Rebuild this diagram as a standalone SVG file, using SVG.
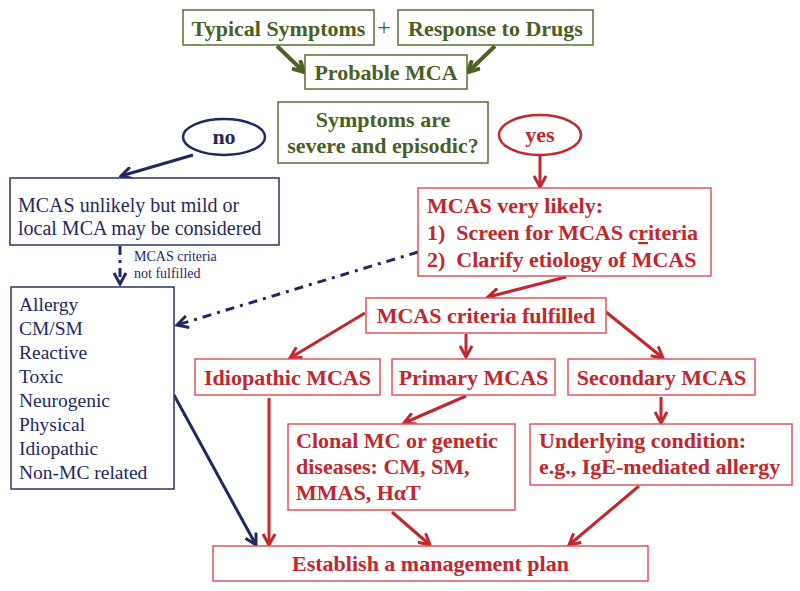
<svg xmlns="http://www.w3.org/2000/svg" width="800" height="591" viewBox="0 0 800 591">
<style>
text{font-family:"Liberation Serif","Times New Roman",Times,serif}
.bg{fill:#fff}
.gbox{fill:#fff;stroke:#5b6e34;stroke-width:1.5}
.nbox{fill:#fff;stroke:#2a3568;stroke-width:1.5}
.rbox{fill:#fff;stroke:#e0575c;stroke-width:1.5}
.gt{font-weight:bold;font-size:22px;fill:#4b5f25}
.nt{font-size:20px;fill:#1f2a5e}
.nb{font-weight:bold;font-size:22px;fill:#1f2a5e}
.rt{font-weight:bold;font-size:22px;fill:#c1272d}
.sm{font-size:14px;fill:#1f2a5e}
.ls{font-size:19.5px}
.ga{stroke:#4e6226;stroke-width:4;fill:none}
.na{stroke:#1f2a5e;stroke-width:3;fill:none}
.ra{stroke:#c1272d;stroke-width:3;fill:none}
</style>
<defs>
<marker id="mg" viewBox="0 0 14 14" refX="12" refY="7" markerWidth="14" markerHeight="14" markerUnits="userSpaceOnUse" orient="auto"><path d="M1,1 L12,7 L1,13" fill="none" stroke="#4e6226" stroke-width="4"/></marker>
<marker id="mn" viewBox="0 0 14 14" refX="12" refY="7" markerWidth="14" markerHeight="14" markerUnits="userSpaceOnUse" orient="auto"><path d="M1,1 L12,7 L1,13" fill="none" stroke="#1f2a5e" stroke-width="3"/></marker>
<marker id="mr" viewBox="0 0 14 14" refX="12" refY="7" markerWidth="14" markerHeight="14" markerUnits="userSpaceOnUse" orient="auto"><path d="M1,1 L12,7 L1,13" fill="none" stroke="#c1272d" stroke-width="3"/></marker>
</defs>
<rect class="bg" x="0" y="0" width="800" height="591"/>

<g id="connectors">
<line class="ga" x1="277" y1="46" x2="304" y2="72" marker-end="url(#mg)"/>
<line class="ga" x1="495" y1="46" x2="468" y2="72" marker-end="url(#mg)"/>
<line class="na" x1="193" y1="155" x2="121" y2="176" marker-end="url(#mn)"/>
<line class="na" x1="120" y1="246" x2="120" y2="284" stroke-dasharray="9,5,3,5" marker-end="url(#mn)"/>
<line class="na" x1="418" y1="252" x2="177" y2="325" stroke-dasharray="9,6,3,6" marker-end="url(#mn)"/>
<line class="na" x1="174" y1="395" x2="256" y2="545" marker-end="url(#mn)"/>
<line class="ra" x1="540" y1="156" x2="540" y2="187" marker-end="url(#mr)"/>
<line class="ra" x1="566" y1="277" x2="488" y2="297" marker-end="url(#mr)"/>
<line class="ra" x1="365" y1="313" x2="290" y2="358" marker-end="url(#mr)"/>
<line class="ra" x1="466" y1="334" x2="466" y2="357" marker-end="url(#mr)"/>
<line class="ra" x1="606" y1="312" x2="663" y2="358" marker-end="url(#mr)"/>
<line class="ra" x1="269" y1="398" x2="269" y2="545" marker-end="url(#mr)"/>
<line class="ra" x1="466" y1="396" x2="404" y2="423" marker-end="url(#mr)"/>
<line class="ra" x1="661" y1="397" x2="661" y2="423" marker-end="url(#mr)"/>
<line class="ra" x1="392" y1="512" x2="430" y2="545" marker-end="url(#mr)"/>
<line class="ra" x1="639" y1="486" x2="569" y2="545" marker-end="url(#mr)"/>
</g>

<g id="typical">
<rect class="gbox" x="183" y="10" width="191" height="35"/>
<text class="gt" x="278.5" y="36" text-anchor="middle">Typical Symptoms</text>
</g>
<g id="plus">
<text x="384" y="35" text-anchor="middle" font-size="24" fill="#4b5f25">+</text>
</g>
<g id="response">
<rect class="gbox" x="398" y="10" width="195" height="35"/>
<text class="gt" x="495.5" y="36" text-anchor="middle">Response to Drugs</text>
</g>
<g id="probable">
<rect class="gbox" x="305" y="55" width="162" height="34"/>
<text class="gt" x="386" y="80" text-anchor="middle">Probable MCA</text>
</g>
<g id="question">
<rect class="gbox" x="278" y="102" width="210" height="61"/>
<text class="gt" x="383" y="127" text-anchor="middle">Symptoms are</text>
<text class="gt" x="383" y="153" text-anchor="middle">severe and episodic?</text>
</g>
<g id="no">
<ellipse cx="224" cy="137" rx="41" ry="18" fill="#fff" stroke="#1f2a5e" stroke-width="2.5"/>
<text class="nb" x="224" y="144" text-anchor="middle">no</text>
</g>
<g id="yes">
<ellipse cx="540" cy="135" rx="41" ry="20" fill="#fff" stroke="#c1272d" stroke-width="2.5"/>
<text class="rt" x="540" y="142" text-anchor="middle">yes</text>
</g>
<g id="unlikely">
<rect class="nbox" x="10" y="178" width="269" height="67"/>
<text class="nt" x="18" y="212">MCAS unlikely but mild or</text>
<text class="nt" x="18" y="235">local MCA may be considered</text>
</g>
<g id="notfulfilled-label">
<text class="sm" x="134" y="261">MCAS criteria</text>
<text class="sm" x="134" y="278">not fulfilled</text>
</g>
<g id="causes">
<rect class="nbox" x="11" y="287" width="163" height="202"/>
<text class="nt ls" x="19" y="311">Allergy</text>
<text class="nt ls" x="19" y="335">CM/SM</text>
<text class="nt ls" x="19" y="359">Reactive</text>
<text class="nt ls" x="19" y="383">Toxic</text>
<text class="nt ls" x="19" y="407">Neurogenic</text>
<text class="nt ls" x="19" y="431">Physical</text>
<text class="nt ls" x="19" y="455">Idiopathic</text>
<text class="nt ls" x="19" y="479">Non-MC related</text>
</g>
<g id="likely">
<rect class="rbox" x="418" y="188" width="293" height="88"/>
<text class="rt" x="427" y="213">MCAS very likely:</text>
<text class="rt" x="427" y="240" xml:space="preserve">1)  Screen for MCAS c<tspan text-decoration="underline">r</tspan>iteria</text>
<text class="rt" x="427" y="267" xml:space="preserve">2)  Clarify etiology of MCAS</text>
</g>
<g id="fulfilled">
<rect class="rbox" x="366" y="298" width="240" height="35"/>
<text class="rt" x="486" y="323" text-anchor="middle">MCAS criteria fulfilled</text>
</g>
<g id="idiopathic">
<rect class="rbox" x="195" y="359" width="185" height="36"/>
<text class="rt" x="287.5" y="385" text-anchor="middle">Idiopathic MCAS</text>
</g>
<g id="primary">
<rect class="rbox" x="392" y="359" width="163" height="36"/>
<text class="rt" x="473.5" y="385" text-anchor="middle">Primary MCAS</text>
</g>
<g id="secondary">
<rect class="rbox" x="568" y="359" width="187" height="36"/>
<text class="rt" x="661.5" y="385" text-anchor="middle">Secondary MCAS</text>
</g>
<g id="clonal">
<rect class="rbox" x="288" y="424" width="227" height="86"/>
<text class="rt" x="296" y="448">Clonal MC or genetic</text>
<text class="rt" x="296" y="474">diseases: CM, SM,</text>
<text class="rt" x="296" y="500">MMAS, HαT</text>
</g>
<g id="underlying">
<rect class="rbox" x="530" y="424" width="262" height="61"/>
<text class="rt" x="539" y="448">Underlying condition:</text>
<text class="rt" x="539" y="474">e.g., IgE-mediated allergy</text>
</g>
<g id="establish">
<rect class="rbox" x="213" y="546" width="435" height="35"/>
<text class="rt" x="430.5" y="571" text-anchor="middle">Establish a management plan</text>
</g>
</svg>
